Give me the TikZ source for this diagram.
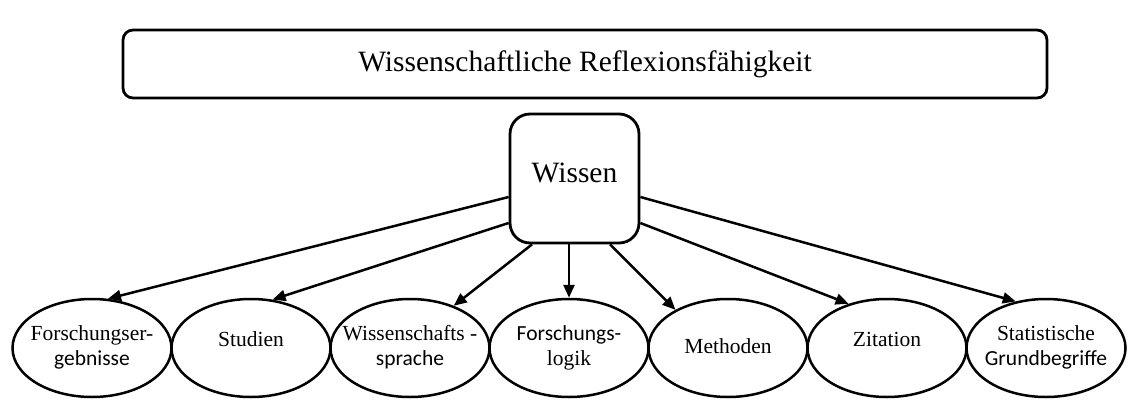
\documentclass[tikz,border=0pt]{standalone}
\usepackage{fontspec}
\setmainfont{Liberation Serif}
\newfontfamily\calibrifont{Carlito}
\usetikzlibrary{arrows.meta,calc,positioning,shapes.geometric}
% text inside an ellipse, kept out of the shape's size
\newcommand{\inell}[1]{\makebox[0pt]{\begin{tabular}{@{}c@{}}#1\end{tabular}}}

\begin{document}
\begin{tikzpicture}[>={Triangle[length=13pt,width=11pt]}, x=1pt, y=-1pt,
  topic/.style={draw, ellipse, line width=2.5pt, minimum width=159pt,
    minimum height=98pt, inner sep=0pt, font=\fontsize{21.5}{25}\selectfont},
  link/.style={->, line width=2.5pt}]
  \useasboundingbox (0,0) rectangle (1130,399);
  % top frame
  \node[draw, line width=2.8pt, rounded corners=10pt, minimum width=924pt,
    minimum height=68pt, font=\fontsize{29.5}{34}\selectfont]
    (reflexion) at (585,64) {Wissenschaftliche Reflexionsfähigkeit};
  % knowledge box
  \node[draw, line width=2.8pt, rounded corners=20pt, minimum width=129pt,
    minimum height=129pt, font=\fontsize{29.5}{34}\selectfont]
    (wissen) at (574.5,178.5) {\raisebox{12pt}{Wissen}};
  % row of topics
  \node[topic] (ergebnisse) at (92,348) {\inell{Forschungser-\\{\calibrifont gebnisse}}};
  \node[topic, right=-2.5pt of ergebnisse] (studien) {\inell{\raisebox{10pt}{Studien}}};
  \node[topic, right=-2.5pt of studien] (sprache) {\inell{Wissenschafts -\\{\calibrifont sprache}}};
  \node[topic, right=-2.5pt of sprache] (logik) {\inell{\calibrifont Forschungs-\\logik}};
  \node[topic, right=-2.5pt of logik] (methoden) {\inell{Methoden}};
  \node[topic, right=-2.5pt of methoden] (zitation) {\inell{\raisebox{10pt}{Zitation}}};
  \node[topic, right=-2.5pt of zitation] (statistik) {\inell{Statistische\\{\calibrifont Grundbegriffe}}};
  % arrows from Wissen
  \draw[link] ([yshift=-18.5pt]wissen.west) -- (ergebnisse.72);
  \draw[link] ([yshift=-44.5pt]wissen.west) -- (studien.66);
  \draw[link] ([xshift=-42.5pt]wissen.south) -- (sprache.44);
  \draw[link] (logik.north |- wissen.south) -- (logik.north);
  \draw[link] ([xshift=35.5pt]wissen.south) -- (methoden.144);
  \draw[link] ([yshift=-44.5pt]wissen.east) -- (zitation.131);
  \draw[link] ([yshift=-18.5pt]wissen.east) -- (statistik.123);
\end{tikzpicture}
\end{document}
